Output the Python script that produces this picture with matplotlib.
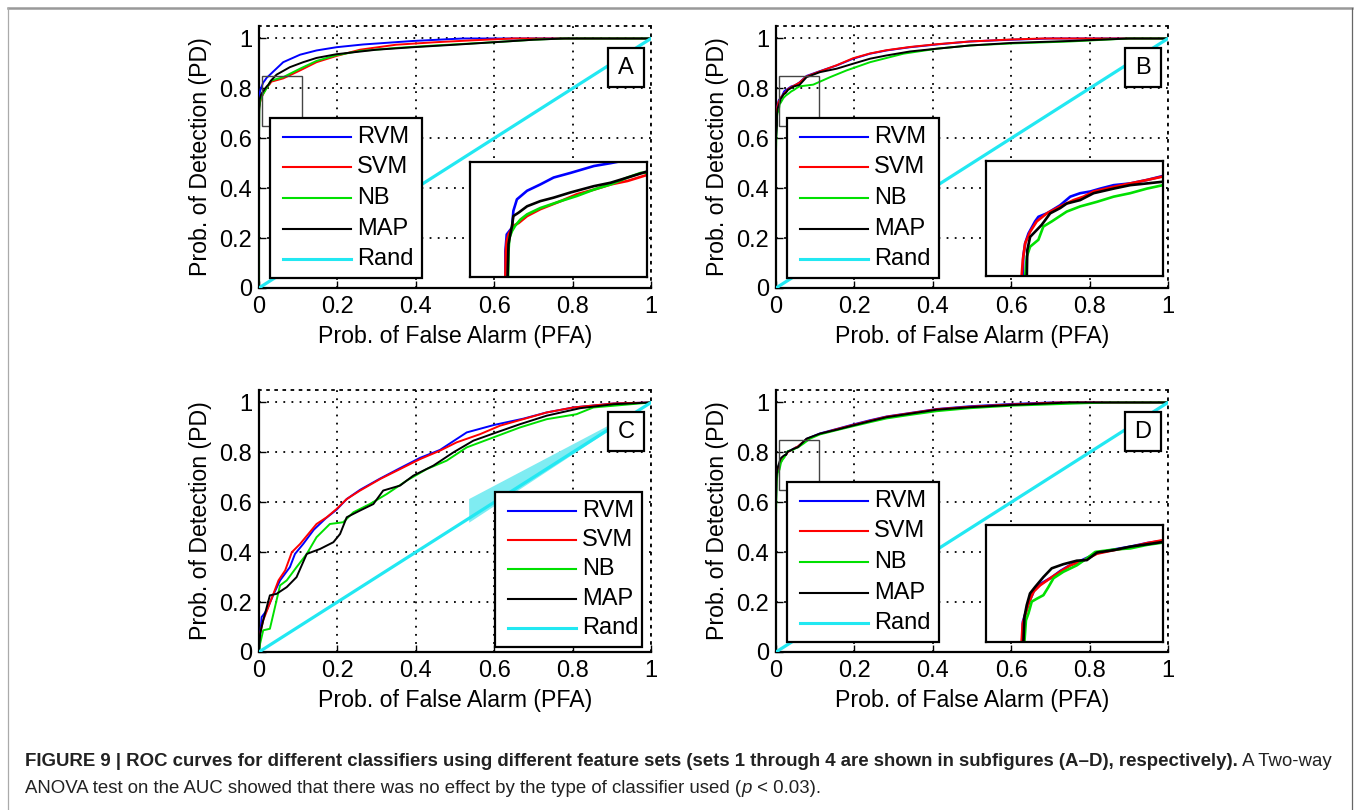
import numpy as np
import matplotlib
matplotlib.use('Agg')
import matplotlib.pyplot as plt
from matplotlib.patches import Rectangle
from matplotlib.lines import Line2D

plt.rcParams['font.family'] = ['Liberation Sans', 'DejaVu Sans']

W, H = 1357, 810
labels = ['RVM', 'SVM', 'NB', 'MAP', 'Rand']
colors = ['#0000ff', '#ff0000', '#00e000', '#000000', '#22e8f2']
tick_vals = [0, 0.2, 0.4, 0.6, 0.8, 1]
tick_labels = ['0', '0.2', '0.4', '0.6', '0.8', '1']

# ---- panel A (feature set 1) ----
a_rvm_fpr = [0, 0, 0, 0.0003, 0.0015, 0.0018, 0.0026, 0.0049, 0.0079, 0.0109, 0.0147, 0.020, 0.0238,
             0.035, 0.062, 0.105, 0.147, 0.198, 0.266, 0.393, 0.52, 1]
a_rvm_tpr = [0, 0.65, 0.695, 0.724, 0.736, 0.765, 0.785, 0.80, 0.811, 0.823, 0.831, 0.843, 0.848,
             0.865, 0.905, 0.935, 0.952, 0.965, 0.976, 0.99, 1.0, 1]
a_svm_fpr = [0, 0, 0.0001, 0.0003, 0.0007, 0.0018, 0.003, 0.0049, 0.0079, 0.0125, 0.0162, 0.02, 0.0238,
             0.0276, 0.0318, 0.062, 0.105, 0.147, 0.198, 0.258, 0.35, 0.45, 0.55, 0.65, 1]
a_svm_tpr = [0, 0.65, 0.695, 0.713, 0.724, 0.739, 0.744, 0.756, 0.768, 0.782, 0.794, 0.802, 0.811,
             0.817, 0.827, 0.84, 0.872, 0.905, 0.93, 0.955, 0.975, 0.985, 0.993, 1.0, 1]
a_nb_fpr = [0, 0, 0.0006, 0.0007, 0.0009, 0.0015, 0.0022, 0.0034, 0.0049, 0.0079, 0.0125, 0.0162, 0.02,
            0.0238, 0.0276, 0.0306, 0.062, 0.105, 0.147, 0.198, 0.258, 0.35, 0.45, 0.6, 0.7, 0.775, 1]
a_nb_tpr = [0, 0.59, 0.65, 0.695, 0.718, 0.73, 0.739, 0.75, 0.759, 0.77, 0.782, 0.791, 0.802,
            0.811, 0.823, 0.831, 0.845, 0.879, 0.91, 0.933, 0.95, 0.962, 0.972, 0.985, 0.995, 1.0, 1]
a_map_fpr = [0, 0.0005, 0.0007, 0.0011, 0.0015, 0.0018, 0.003, 0.0049, 0.0079, 0.0109, 0.0147, 0.02, 0.0238,
             0.0276, 0.0318, 0.045, 0.079, 0.113, 0.147, 0.198, 0.3, 0.393, 0.5, 0.6, 0.7, 0.78, 1]
a_map_tpr = [0, 0.65, 0.707, 0.724, 0.739, 0.756, 0.762, 0.773, 0.782, 0.788, 0.797, 0.808, 0.814,
             0.823, 0.833, 0.855, 0.885, 0.905, 0.922, 0.937, 0.955, 0.965, 0.975, 0.985, 0.995, 1.0, 1]

# ---- panel B (feature set 2) ----
b_rvm_fpr = [0, 0, 0.0006, 0.0008, 0.0016, 0.003, 0.0058, 0.0072, 0.0108, 0.0164, 0.0207, 0.0249, 0.0292,
             0.0334, 0.0391, 0.0461, 0.0532, 0.06, 0.078, 0.112, 0.155, 0.197, 0.24, 0.282, 0.342, 0.41,
             0.495, 0.6, 0.7, 1]
b_rvm_tpr = [0, 0.6, 0.65, 0.684, 0.707, 0.724, 0.745, 0.753, 0.759, 0.773, 0.788, 0.794, 0.797,
             0.802, 0.808, 0.811, 0.817, 0.824, 0.85, 0.869, 0.892, 0.919, 0.939, 0.952, 0.965, 0.976,
             0.988, 0.995, 1.0, 1]
b_svm_fpr = [0, 0, 0.0001, 0.0006, 0.0016, 0.0037, 0.0065, 0.0108, 0.0164, 0.0221, 0.0263, 0.0306, 0.0391,
             0.0461, 0.0532, 0.06, 0.078, 0.112, 0.155, 0.197, 0.24, 0.282, 0.342, 0.41, 0.495, 0.6, 0.68, 1]
b_svm_tpr = [0, 0.58, 0.65, 0.678, 0.707, 0.727, 0.745, 0.759, 0.771, 0.782, 0.788, 0.797, 0.805,
             0.811, 0.817, 0.823, 0.848, 0.868, 0.893, 0.921, 0.94, 0.953, 0.966, 0.977, 0.988, 0.996, 1.0, 1]
b_nb_fpr = [0, 0, 0.0016, 0.0023, 0.0037, 0.0072, 0.0093, 0.0129, 0.0192, 0.0249, 0.032, 0.0391, 0.0461,
            0.0532, 0.06, 0.095, 0.138, 0.18, 0.24, 0.325, 0.41, 0.495, 0.6, 0.75, 0.9, 1]
b_nb_tpr = [0, 0.55, 0.65, 0.684, 0.701, 0.713, 0.736, 0.745, 0.762, 0.771, 0.779, 0.788, 0.794,
            0.802, 0.808, 0.815, 0.845, 0.872, 0.905, 0.939, 0.959, 0.972, 0.98, 0.988, 1.0, 1]
b_map_fpr = [0, 0, 0.0023, 0.0025, 0.0037, 0.0058, 0.0086, 0.0122, 0.0164, 0.0192, 0.0249, 0.0306, 0.0391,
             0.0461, 0.0532, 0.06, 0.078, 0.112, 0.155, 0.197, 0.24, 0.282, 0.342, 0.41, 0.495, 0.6, 0.75,
             0.9, 1]
b_map_tpr = [0, 0.6, 0.65, 0.695, 0.718, 0.727, 0.739, 0.759, 0.768, 0.776, 0.782, 0.794, 0.802,
             0.808, 0.811, 0.814, 0.845, 0.865, 0.879, 0.899, 0.919, 0.932, 0.948, 0.959, 0.972, 0.982, 0.99,
             1.0, 1]

# ---- panel C (feature set 3) ----
c_rvm_fpr = [0, 0.007, 0.02, 0.037, 0.054, 0.079, 0.092, 0.113, 0.14, 0.17, 0.198, 0.224, 0.258, 0.309,
             0.36, 0.411, 0.462, 0.53, 0.6, 0.674, 0.734, 0.802, 0.905, 1]
c_rvm_tpr = [0, 0.14, 0.167, 0.23, 0.287, 0.34, 0.393, 0.433, 0.49, 0.535, 0.57, 0.613, 0.65, 0.695,
             0.737, 0.778, 0.81, 0.88, 0.91, 0.935, 0.96, 0.98, 0.996, 1]
c_svm_fpr = [0, 0.003, 0.011, 0.024, 0.037, 0.05, 0.067, 0.084, 0.105, 0.126, 0.147, 0.173, 0.198, 0.224,
             0.258, 0.309, 0.36, 0.411, 0.462, 0.504, 0.564, 0.615, 0.674, 0.734, 0.802, 0.905, 1]
c_svm_tpr = [0, 0.073, 0.127, 0.18, 0.233, 0.287, 0.327, 0.4, 0.433, 0.473, 0.513, 0.54, 0.573, 0.613,
             0.647, 0.693, 0.733, 0.773, 0.807, 0.84, 0.873, 0.907, 0.933, 0.96, 0.98, 0.996, 1]
c_nb_fpr = [0, 0.003, 0.011, 0.028, 0.037, 0.045, 0.054, 0.071, 0.096, 0.122, 0.147, 0.181, 0.215, 0.241,
            0.283, 0.326, 0.377, 0.428, 0.479, 0.53, 0.598, 0.666, 0.734, 0.81, 0.853, 0.905, 1]
c_nb_tpr = [0, 0.033, 0.087, 0.093, 0.153, 0.207, 0.267, 0.287, 0.34, 0.393, 0.46, 0.513, 0.52, 0.56,
            0.593, 0.633, 0.687, 0.733, 0.767, 0.82, 0.86, 0.9, 0.933, 0.953, 0.98, 0.987, 1]
c_map_fpr = [0, 0.003, 0.011, 0.028, 0.045, 0.071, 0.096, 0.122, 0.156, 0.19, 0.207, 0.224, 0.258, 0.292,
             0.317, 0.36, 0.394, 0.445, 0.496, 0.547, 0.606, 0.666, 0.734, 0.819, 0.905, 1]
c_map_tpr = [0, 0.073, 0.127, 0.227, 0.233, 0.26, 0.3, 0.393, 0.413, 0.44, 0.473, 0.54, 0.567, 0.593,
             0.647, 0.667, 0.707, 0.747, 0.8, 0.847, 0.88, 0.913, 0.947, 0.977, 0.993, 1]
# shaded band around the random line in C
c_band_x = [0.535, 1.0]
c_band_lo = [0.52, 1.0]
c_band_hi = [0.615, 1.0]

# ---- panel D (feature set 4) ----
d_rvm_fpr = [0, 0, 0.0003, 0.0006, 0.0016, 0.003, 0.005, 0.0078, 0.0118, 0.0156, 0.0195, 0.0235, 0.0275,
             0.03, 0.0365, 0.0431, 0.0497, 0.056, 0.078, 0.112, 0.155, 0.197, 0.24, 0.282, 0.342, 0.41,
             0.495, 0.6, 0.7, 1]
d_rvm_tpr = [0, 0.6, 0.65, 0.685, 0.699, 0.718, 0.738, 0.75, 0.76, 0.772, 0.782, 0.789, 0.797,
             0.802, 0.808, 0.813, 0.819, 0.823, 0.854, 0.876, 0.894, 0.912, 0.929, 0.944, 0.958, 0.974,
             0.985, 0.994, 1.0, 1]
d_svm_fpr = [0, 0, 0.0001, 0.0005, 0.0015, 0.0028, 0.0048, 0.0074, 0.0114, 0.0153, 0.0193, 0.0232, 0.0272,
             0.0299, 0.0365, 0.0431, 0.0497, 0.056, 0.078, 0.112, 0.155, 0.197, 0.24, 0.282, 0.342, 0.41,
             0.495, 0.6, 0.72, 1]
d_svm_tpr = [0, 0.58, 0.65, 0.681, 0.696, 0.716, 0.736, 0.747, 0.759, 0.77, 0.781, 0.787, 0.795,
             0.801, 0.807, 0.812, 0.819, 0.824, 0.853, 0.874, 0.893, 0.91, 0.927, 0.943, 0.957, 0.973,
             0.983, 0.992, 1.0, 1]
d_nb_fpr = [0, 0, 0.0012, 0.0018, 0.0028, 0.0041, 0.0061, 0.0087, 0.0107, 0.0127, 0.0166, 0.0219, 0.0259,
            0.0292, 0.0365, 0.0431, 0.0497, 0.056, 0.07, 0.087, 0.112, 0.155, 0.197, 0.24, 0.282, 0.342,
            0.41, 0.495, 0.6, 0.75, 0.85, 1]
d_nb_tpr = [0, 0.55, 0.65, 0.687, 0.699, 0.719, 0.724, 0.73, 0.744, 0.759, 0.77, 0.781, 0.793,
            0.804, 0.808, 0.81, 0.816, 0.82, 0.835, 0.855, 0.872, 0.889, 0.905, 0.921, 0.936, 0.95,
            0.965, 0.977, 0.987, 0.995, 1.0, 1]
d_map_fpr = [0, 0, 0.0008, 0.0012, 0.0021, 0.0034, 0.0054, 0.0087, 0.012, 0.0166, 0.0219, 0.0259, 0.0299,
             0.0365, 0.0431, 0.0497, 0.056, 0.078, 0.112, 0.155, 0.197, 0.24, 0.282, 0.342, 0.41, 0.495,
             0.6, 0.75, 1]
d_map_tpr = [0, 0.6, 0.65, 0.693, 0.713, 0.733, 0.744, 0.761, 0.776, 0.783, 0.789, 0.79, 0.803,
             0.807, 0.813, 0.817, 0.821, 0.855, 0.875, 0.891, 0.908, 0.925, 0.941, 0.955, 0.971, 0.981,
             0.99, 1.0, 1]

rand_fpr = [0, 1]
rand_tpr = [0, 1]

fig = plt.figure(figsize=(W / 100, H / 100), dpi=100)
dots = (0, (1, 3.5))


def draw_panel(rect, curves, letter, leg_box, inset_rect=None, inset_xlim=None, band=None, zoom_box=True):
    ax = fig.add_axes(rect)
    ax.set_xlim(0, 1)
    ax.set_ylim(0, 1.05)
    ax.set_xticks(tick_vals)
    ax.set_xticklabels(tick_labels)
    ax.set_yticks(tick_vals)
    ax.set_yticklabels(tick_labels)
    ax.tick_params(direction='in', length=5, width=1, labelsize=17)
    ax.tick_params(axis='x', pad=6)
    ax.tick_params(axis='y', pad=5)
    ax.grid(True, color='k', linestyle=dots, linewidth=1.3)
    ax.set_axisbelow(True)
    for s in ['left', 'bottom']:
        ax.spines[s].set_linewidth(1.6)
    for s in ['top', 'right']:
        ax.spines[s].set_linestyle(dots)
        ax.spines[s].set_linewidth(1.3)
    ax.set_xlabel('Prob. of False Alarm (PFA)', fontsize=16.7, labelpad=5)
    ax.set_ylabel('Prob. of Detection (PD)', fontsize=16.7, labelpad=5)

    if band is not None:
        ax.fill_between(band[0], band[1], band[2], color='#7fecf2', lw=0, zorder=2)
    for (fx, ty), c in zip(curves, colors):
        ax.plot(fx, ty, color=c, lw=1.4, zorder=3)
    ax.plot(rand_fpr, rand_tpr, color=colors[4], lw=2.3, zorder=3)

    if zoom_box:
        ax.add_patch(Rectangle((0.008, 0.65), 0.102, 0.2, fill=False, ec='#444444', lw=1, zorder=4))

    # panel letter
    ax.add_patch(Rectangle((0.89, 0.804), 0.092, 0.156, fc='white', ec='black', lw=1.6, zorder=5))
    ax.text(0.936, 0.882, letter, ha='center', va='center', fontsize=17, zorder=6)

    # legend box, drawn in axes fraction
    x0, y0, x1, y1 = leg_box
    ax.add_patch(Rectangle((x0, y0), x1 - x0, y1 - y0, transform=ax.transAxes,
                           fc='white', ec='black', lw=1.6, zorder=7, clip_on=False))
    m = 0.071
    step = (y1 - y0 - 2 * m) / 4
    for i, (lab, c) in enumerate(zip(labels, colors)):
        yy = y1 - m - i * step
        ax.add_line(Line2D([x0 + 0.034, x0 + 0.207], [yy, yy], transform=ax.transAxes,
                           color=c, lw=2.2 if lab == 'Rand' else 1.5, zorder=8))
        ax.text(x0 + 0.222, yy, lab, transform=ax.transAxes, fontsize=17,
                ha='left', va='center', zorder=8)

    if inset_rect is not None:
        ins = fig.add_axes(inset_rect)
        ins.set_zorder(ax.get_zorder() + 1)
        for (fx, ty), c in zip(curves, colors):
            ins.plot(fx, ty, color=c, lw=1.9)
        ins.set_xlim(*inset_xlim)
        ins.set_ylim(0.65, 0.85)
        ins.set_xticks([])
        ins.set_yticks([])
        for s in ins.spines.values():
            s.set_linewidth(1.6)
    return ax


draw_panel([258.9 / W, 1 - 288 / H, 392.1 / W, 262 / H],
           [(a_rvm_fpr, a_rvm_tpr), (a_svm_fpr, a_svm_tpr), (a_nb_fpr, a_nb_tpr), (a_map_fpr, a_map_tpr)],
           'A', (0.028, 0.038, 0.416, 0.649),
           inset_rect=[470 / W, 1 - 277 / H, 177 / W, 115 / H], inset_xlim=(-0.008, 0.032))
draw_panel([776 / W, 1 - 288 / H, 392 / W, 262 / H],
           [(b_rvm_fpr, b_rvm_tpr), (b_svm_fpr, b_svm_tpr), (b_nb_fpr, b_nb_tpr), (b_map_fpr, b_map_tpr)],
           'B', (0.028, 0.038, 0.416, 0.649),
           inset_rect=[986 / W, 1 - 276 / H, 177 / W, 115 / H], inset_xlim=(-0.015, 0.06))
draw_panel([258.9 / W, 1 - 652 / H, 392.1 / W, 262 / H],
           [(c_rvm_fpr, c_rvm_tpr), (c_svm_fpr, c_svm_tpr), (c_nb_fpr, c_nb_tpr), (c_map_fpr, c_map_tpr)],
           'C', (0.602, 0.019, 0.977, 0.611),
           band=(c_band_x, c_band_lo, c_band_hi), zoom_box=False)
draw_panel([776 / W, 1 - 652 / H, 392 / W, 262 / H],
           [(d_rvm_fpr, d_rvm_tpr), (d_svm_fpr, d_svm_tpr), (d_nb_fpr, d_nb_tpr), (d_map_fpr, d_map_tpr)],
           'D', (0.028, 0.038, 0.416, 0.649),
           inset_rect=[986 / W, 1 - 642 / H, 177 / W, 117 / H], inset_xlim=(-0.014, 0.056))

# page frame
fig.add_artist(Line2D([8 / W, 1352 / W], [1 - 8 / H, 1 - 8 / H], color='#999999', lw=1.8))
fig.add_artist(Line2D([8 / W, 8 / W], [1 - 8 / H, 0], color='#aaaaaa', lw=0.9))
fig.add_artist(Line2D([1352 / W, 1352 / W], [1 - 8 / H, 0], color='#666666', lw=0.9))

# caption, built from runs of bold / regular / italic text
renderer = fig.canvas.get_renderer()
bold_text = ('FIGURE 9 | ROC curves for different classifiers using different feature sets '
             '(sets 1 through 4 are shown in subfigures (A\u2013D), respectively).')
probe = fig.text(0, 0, bold_text, fontsize=12, weight='bold')
cap_size = 12 * 1212 / probe.get_window_extent(renderer).width
probe.remove()


def text_runs(x_px, y_px, runs):
    x = x_px
    for s, weight, style in runs:
        t = fig.text(x / W, 1 - y_px / H, s, fontsize=cap_size, weight=weight, style=style,
                     ha='left', va='baseline', color='#222222')
        x = t.get_window_extent(renderer).x1


text_runs(25, 766, [(bold_text, 'bold', 'normal'), (' A Two-way', 'normal', 'normal')])
text_runs(25, 793, [('ANOVA test on the AUC showed that there was no effect by the type of classifier used (',
                     'normal', 'normal'),
                    ('p', 'normal', 'italic'), (' < 0.03).', 'normal', 'normal')])

fig.savefig('out.png', dpi=100)
